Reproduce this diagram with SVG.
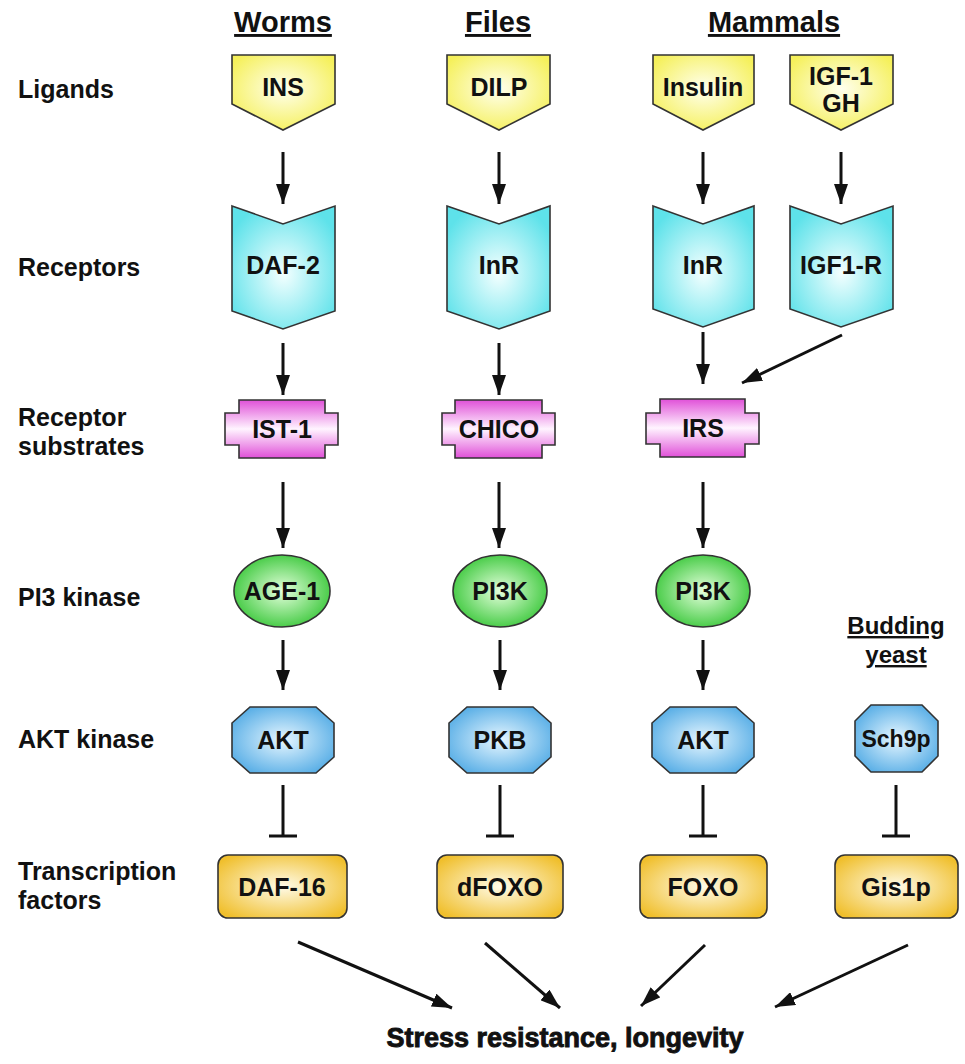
<svg xmlns="http://www.w3.org/2000/svg" width="965" height="1064" viewBox="0 0 965 1064">
<defs>
<style>
text{font-family:"Liberation Sans",Arial,sans-serif;font-weight:bold;fill:#111;}
.hdr{font-size:29px;text-decoration:underline;text-anchor:middle;}
.yst{font-size:24px;text-decoration:underline;text-anchor:middle;}
.row{font-size:25px;}
.lbl{font-size:25px;text-anchor:middle;}
.shape{stroke:#333;stroke-width:1.6;}
.conn line{stroke:#111;stroke-width:3;}
.arr{marker-end:url(#ah);}
.ttl{font-size:27px;text-anchor:middle;stroke:#111;stroke-width:0.9;}
</style>
<marker id="ah" viewBox="0 0 20 14" refX="20" refY="7" markerWidth="20" markerHeight="14" markerUnits="userSpaceOnUse" orient="auto"><path d="M0,0 L20,7 L0,14 z" fill="#111"/></marker>
<radialGradient id="gY" cx="50%" cy="45%" r="60%"><stop offset="0" stop-color="#ffffee"/><stop offset="1" stop-color="#f5f05a"/></radialGradient>
<radialGradient id="gC" cx="50%" cy="55%" r="60%"><stop offset="0" stop-color="#f4ffff"/><stop offset="1" stop-color="#5ee2ea"/></radialGradient>
<linearGradient id="gM" x1="0" y1="0" x2="0" y2="1"><stop offset="0" stop-color="#e050d8"/><stop offset="0.5" stop-color="#fff4ff"/><stop offset="1" stop-color="#e050d8"/></linearGradient>
<radialGradient id="gG" cx="50%" cy="50%" r="55%"><stop offset="0" stop-color="#e4ffdc"/><stop offset="1" stop-color="#3cc83c"/></radialGradient>
<radialGradient id="gB" cx="50%" cy="50%" r="58%"><stop offset="0" stop-color="#e6f6ff"/><stop offset="1" stop-color="#58aee6"/></radialGradient>
<radialGradient id="gO" cx="50%" cy="50%" r="62%"><stop offset="0" stop-color="#fffbe8"/><stop offset="1" stop-color="#f0bf2c"/></radialGradient>
</defs>
<rect width="965" height="1064" fill="#fff"/>

<g id="headers">
<text class="hdr" x="283" y="32">Worms</text>
<text class="hdr" x="498" y="32">Files</text>
<text class="hdr" x="774" y="32">Mammals</text>
<text class="yst" x="896" y="634">Budding</text>
<text class="yst" x="896" y="663">yeast</text>
</g>

<g id="row-labels">
<text class="row" x="18" y="98">Ligands</text>
<text class="row" x="18" y="276">Receptors</text>
<text class="row" x="18" y="426">Receptor</text>
<text class="row" x="18" y="455">substrates</text>
<text class="row" x="18" y="606">PI3 kinase</text>
<text class="row" x="18" y="748">AKT kinase</text>
<text class="row" x="18" y="880">Transcription</text>
<text class="row" x="18" y="909">factors</text>
</g>

<g id="INS"><polygon class="shape" fill="url(#gY)" points="232,55 335,55 335,104 283,130 232,104"/><text class="lbl" x="283" y="96">INS</text></g>
<g id="DILP"><polygon class="shape" fill="url(#gY)" points="447,55 550,55 550,104 499,130 447,104"/><text class="lbl" x="499" y="96">DILP</text></g>
<g id="Insulin"><polygon class="shape" fill="url(#gY)" points="653,55 754,55 754,104 703,130 653,104"/><text class="lbl" x="703" y="96">Insulin</text></g>
<g id="IGF1-GH"><polygon class="shape" fill="url(#gY)" points="790,55 893,55 893,104 841,130 790,104"/><text class="lbl" x="841" y="85">IGF-1</text><text class="lbl" x="841" y="112">GH</text></g>

<g id="DAF-2"><polygon class="shape" fill="url(#gC)" points="232,206 283,224 335,206 335,311 283,329 232,311"/><text class="lbl" x="283" y="274">DAF-2</text></g>
<g id="InR-fly"><polygon class="shape" fill="url(#gC)" points="447,206 499,224 550,206 550,311 499,329 447,311"/><text class="lbl" x="499" y="274">InR</text></g>
<g id="InR-mam"><polygon class="shape" fill="url(#gC)" points="653,206 703,224 754,206 754,309 703,327 653,309"/><text class="lbl" x="703" y="274">InR</text></g>
<g id="IGF1-R"><polygon class="shape" fill="url(#gC)" points="790,206 841,224 893,206 893,309 841,327 790,309"/><text class="lbl" x="841" y="274">IGF1-R</text></g>

<g id="IST-1"><path class="shape" fill="url(#gM)" d="M239,400 H325 V413 H338 V445 H325 V458 H239 V445 H225 V413 H239 Z"/><text class="lbl" x="282" y="438">IST-1</text></g>
<g id="CHICO"><path class="shape" fill="url(#gM)" d="M455,400 H542 V413 H555 V445 H542 V458 H455 V445 H442 V413 H455 Z"/><text class="lbl" x="499" y="438">CHICO</text></g>
<g id="IRS"><path class="shape" fill="url(#gM)" d="M660,399 H745 V413 H759 V444 H745 V457 H660 V444 H646 V413 H660 Z"/><text class="lbl" x="703" y="437">IRS</text></g>

<g id="AGE-1"><ellipse class="shape" fill="url(#gG)" cx="282" cy="591" rx="48" ry="36"/><text class="lbl" x="282" y="600">AGE-1</text></g>
<g id="PI3K-fly"><ellipse class="shape" fill="url(#gG)" cx="500" cy="591" rx="47" ry="36"/><text class="lbl" x="500" y="600">PI3K</text></g>
<g id="PI3K-mam"><ellipse class="shape" fill="url(#gG)" cx="703" cy="591" rx="47" ry="36"/><text class="lbl" x="703" y="600">PI3K</text></g>

<g id="AKT-worm"><polygon class="shape" fill="url(#gB)" points="250,707 316,707 334,723 334,757 316,773 250,773 232,757 232,723"/><text class="lbl" x="283" y="749">AKT</text></g>
<g id="PKB"><polygon class="shape" fill="url(#gB)" points="467,707 533,707 551,723 551,757 533,773 467,773 449,757 449,723"/><text class="lbl" x="500" y="749">PKB</text></g>
<g id="AKT-mam"><polygon class="shape" fill="url(#gB)" points="670,707 736,707 754,723 754,757 736,773 670,773 652,757 652,723"/><text class="lbl" x="703" y="749">AKT</text></g>
<g id="Sch9p"><polygon class="shape" fill="url(#gB)" points="871,705 922,705 938,721 938,756 922,772 871,772 855,756 855,721"/><text class="lbl" x="896" y="747" style="font-size:23px">Sch9p</text></g>

<g id="DAF-16"><rect class="shape" fill="url(#gO)" x="218" y="855" width="129" height="63" rx="10"/><text class="lbl" x="282" y="896">DAF-16</text></g>
<g id="dFOXO"><rect class="shape" fill="url(#gO)" x="437" y="855" width="126" height="63" rx="10"/><text class="lbl" x="500" y="896">dFOXO</text></g>
<g id="FOXO"><rect class="shape" fill="url(#gO)" x="640" y="855" width="127" height="63" rx="10"/><text class="lbl" x="703" y="896">FOXO</text></g>
<g id="Gis1p"><rect class="shape" fill="url(#gO)" x="835" y="855" width="123" height="63" rx="10"/><text class="lbl" x="896" y="896">Gis1p</text></g>

<g id="outcome"><text class="ttl" x="565" y="1047">Stress resistance, longevity</text></g>

<g id="connectors" class="conn">
<line class="arr" x1="283" y1="152" x2="283" y2="204"/>
<line class="arr" x1="499" y1="152" x2="499" y2="204"/>
<line class="arr" x1="703" y1="152" x2="703" y2="204"/>
<line class="arr" x1="841" y1="152" x2="841" y2="204"/>
<line class="arr" x1="283" y1="343" x2="283" y2="395"/>
<line class="arr" x1="499" y1="343" x2="499" y2="395"/>
<line class="arr" x1="703" y1="332" x2="703" y2="384"/>
<line class="arr" x1="842" y1="335" x2="742" y2="383"/>
<line class="arr" x1="283" y1="482" x2="283" y2="548"/>
<line class="arr" x1="499" y1="482" x2="499" y2="548"/>
<line class="arr" x1="703" y1="482" x2="703" y2="548"/>
<line class="arr" x1="283" y1="640" x2="283" y2="690"/>
<line class="arr" x1="500" y1="640" x2="500" y2="690"/>
<line class="arr" x1="703" y1="640" x2="703" y2="690"/>
<line x1="283" y1="785" x2="283" y2="836"/><line x1="269" y1="836" x2="297" y2="836"/>
<line x1="500" y1="785" x2="500" y2="836"/><line x1="486" y1="836" x2="514" y2="836"/>
<line x1="703" y1="785" x2="703" y2="836"/><line x1="689" y1="836" x2="717" y2="836"/>
<line x1="896" y1="785" x2="896" y2="836"/><line x1="882" y1="836" x2="910" y2="836"/>
<line class="arr" x1="298" y1="942" x2="452" y2="1008"/>
<line class="arr" x1="485" y1="943" x2="560" y2="1008"/>
<line class="arr" x1="705" y1="945" x2="641" y2="1006"/>
<line class="arr" x1="908" y1="945" x2="775" y2="1007"/>
</g>
</svg>
